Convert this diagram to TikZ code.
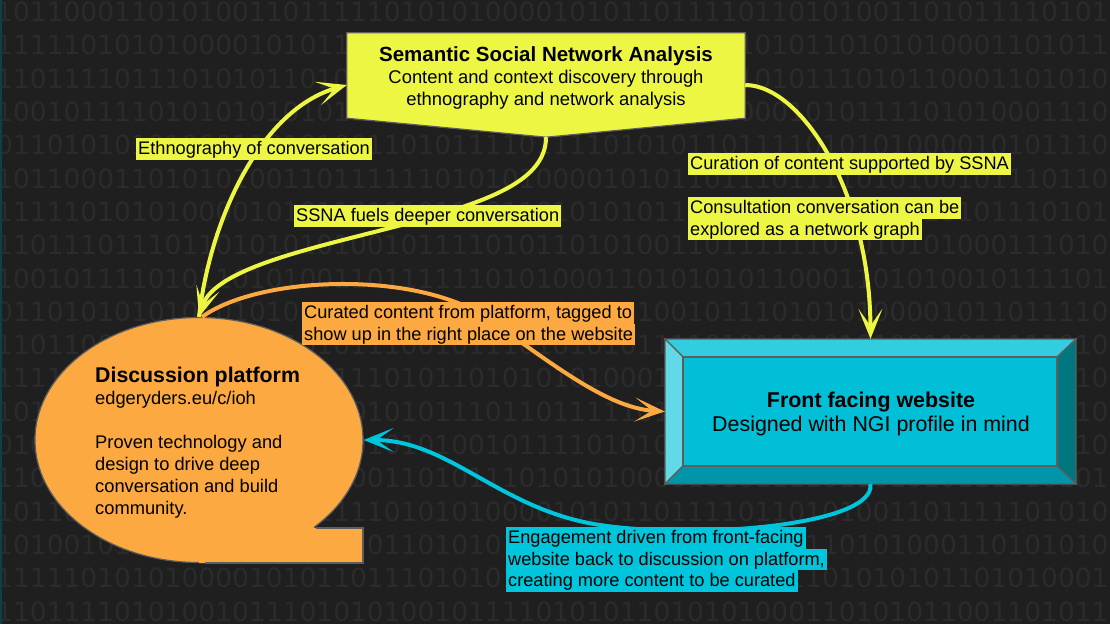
\documentclass[tikz,border=0pt]{standalone}
\usepackage{fontspec}
\setmainfont{Liberation Sans}
\newfontfamily\binfont{DejaVu Sans}
\usetikzlibrary{arrows.meta,shapes.geometric}

\definecolor{bg}{HTML}{1F1F1F}
\definecolor{digit}{HTML}{2B2B2B}
\definecolor{ylw}{HTML}{EDF743}
\definecolor{org}{HTML}{FBA940}
\definecolor{cyn}{HTML}{00C6DD}
\definecolor{face}{HTML}{00BFD6}
\definecolor{bvtop}{HTML}{33CDDF}
\definecolor{bvleft}{HTML}{62D9E7}
\definecolor{bvright}{HTML}{00767F}
\definecolor{bvbot}{HTML}{0095A8}
\definecolor{edge}{HTML}{5E5E5E}
\definecolor{leftline}{HTML}{0F3E44}

\setlength\fboxsep{0pt}
\newcommand\hlb[2]{\colorbox{#1}{\rule[-5pt]{0pt}{21.5pt}\hspace{2pt}#2\hspace{2pt}}}

\tikzset{
  digitrow/.style={font=\binfont\fontsize{26.5}{26.5}\selectfont, text=digit, inner sep=0pt, anchor=west},
  conn/.style={line width=4pt, -{Stealth[length=30pt,width=24pt,inset=17pt]}},
  lbl/.style={inner sep=0pt, anchor=north west, align=left, font=\fontsize{18.2}{21.5}\selectfont},
  shapeedge/.style={draw=edge, line width=1.2pt},
}

\begin{document}
\begin{tikzpicture}[x=1pt,y=-1pt]
\useasboundingbox (0,0) rectangle (1110,624);
\fill[bg] (0,0) rectangle (1110,624);
\begin{scope}
\clip (0,0) rectangle (1110,624);
\foreach \s [count=\i from 0] in {
10110001101010011011111010101000010101101111011010100110101111010110,
11111010101000010101101110101001011110101010101011010101000110101110,
11011110111010101101010010111010110111000110101011101011000110101001,
10010111101010101010110101001101111110101010000101011110101000111010,
01101010101000110101001101011110111101010110111101010100001010111010,
10110001101010100110111111010101000010101101110111101010010111011010,
11111010101000010101101110111011010101011101010101000011010111010100,
11011101110110101010100101111010110101001101111110101010100011101011,
10010111101011010100110111111010100011010101011000110101001011110100,
01101010101010101000110101011101101010100101110101010000101101111010,
11011000110101011101011100101110101010111101011010101001101111101011,
11111010101000011010111010110101010100011010101010110101011110101011,
10101010110101010000101010111011011111010101010000110101111011101011,
01011010101001101111101010100101111010101101010101011010101001011010,
11010101101011101011000110101110101010000101011110110101011101010101,
10110001101010011011111010101000010101101111011010100110111110101011,
10100101110110111101010110101011110111010100101011010100011010101010,
11111010101000010101101110101010101011010101000110101010110101000111,
11011110101001011101010100101111010101101010100011010101100110101101}
  \node[digitrow] (row\i) at (-4, 12+33.3*\i) {\s};
\end{scope}
\draw[leftline, line width=1.5pt] (0.75,0) -- (0.75,624);

% Semantic Social Network Analysis
\node[minimum width=398pt, minimum height=104pt, inner sep=0pt] (ssna) at (546,85) {};
\filldraw[fill=ylw, shapeedge] (ssna.north west) -- (ssna.north east) -- ([yshift=19pt]ssna.south east) -- (ssna.south) -- ([yshift=19pt]ssna.south west) -- cycle;
\node[anchor=north, align=center, inner sep=0pt, font=\fontsize{18.4}{22}\selectfont] (ssnatext) at (546,46)
  {{\bfseries\fontsize{20.5}{22}\selectfont Semantic Social Network Analysis}\\Content and context discovery through\\ethnography and network analysis};

% Discussion platform
\node[ellipse, minimum width=328pt, minimum height=245pt, inner sep=0pt, fill=org, shapeedge] (dp) at (199,440) {};
\fill[org] (315,528) -- (363,528) -- (363,563) -- (199,563) -- (199,540) -- (300,520) -- cycle;
\draw[shapeedge] (315.5,528) -- (363,528) -- (363,563) -- (205,563);
\node[anchor=north west, align=left, inner sep=0pt, font=\fontsize{18.3}{22}\selectfont] (dptext) at (95,367)
  {{\bfseries\fontsize{21.3}{22}\selectfont Discussion platform}\\edgeryders.eu/c/ioh\\[22pt]Proven technology and\\design to drive deep\\conversation and build\\community.};

% Front facing website
\node[minimum width=411pt, minimum height=145pt, inner sep=0pt] (web) at (870.5,411.5) {};
\filldraw[fill=bvtop, shapeedge] (665,339) -- (1076,339) -- (1057,357) -- (683,357) -- cycle;
\filldraw[fill=bvleft, shapeedge] (665,339) -- (683,357) -- (683,466) -- (665,484) -- cycle;
\filldraw[fill=bvright, shapeedge] (1076,339) -- (1076,484) -- (1057,466) -- (1057,357) -- cycle;
\filldraw[fill=bvbot, shapeedge] (665,484) -- (1076,484) -- (1057,466) -- (683,466) -- cycle;
\filldraw[fill=face, shapeedge] (683,357) rectangle (1057,466);
\node[anchor=north, align=center, inner sep=0pt, font=\fontsize{21.4}{24}\selectfont] (webtext) at (871,392)
  {\bfseries Front facing website\\Designed with NGI profile in mind};

% connectors
\draw[conn, ylw] (dp.north) .. controls (210,220) and (260,110) .. (ssna.west);
\draw[conn, ylw] (ssna.south) .. controls (546,180) and (490,200) .. (420,220) .. controls (330,245) and (215,265) .. (dp.north);
\draw[conn, ylw] (ssna.east) .. controls (800,85) and (870,190) .. (web.north);
\draw[conn, org] ([xshift=3pt]dp.north) .. controls (260,275) and (420,270) .. (490,320) .. controls (560,370) and (610,408) .. (web.west);
\draw[conn, cyn] (web.south) .. controls (875,525) and (700,540) .. (600,525) .. controls (500,510) and (450,440) .. (dp.east);

% labels
\node[lbl] (l1) at (136,138) {\hlb{ylw}{Ethnography of conversation}};
\node[lbl] (l2) at (294,205) {\hlb{ylw}{SSNA fuels deeper conversation}};
\node[lbl] (l3) at (688,153) {\hlb{ylw}{Curation of content supported by SSNA}};
\node[lbl] (l4) at (688,197) {\hlb{ylw}{Consultation conversation can be}\\\hlb{ylw}{explored as a network graph}};
\node[lbl] (l5) at (302,302) {\hlb{org}{Curated content from platform, tagged to}\\\hlb{org}{show up in the right place on the website}};
\node[lbl] (l6) at (506,527) {\hlb{cyn}{Engagement driven from front-facing}\\\hlb{cyn}{website back to discussion on platform,}\\\hlb{cyn}{creating more content to be curated}};
\end{tikzpicture}
\end{document}
